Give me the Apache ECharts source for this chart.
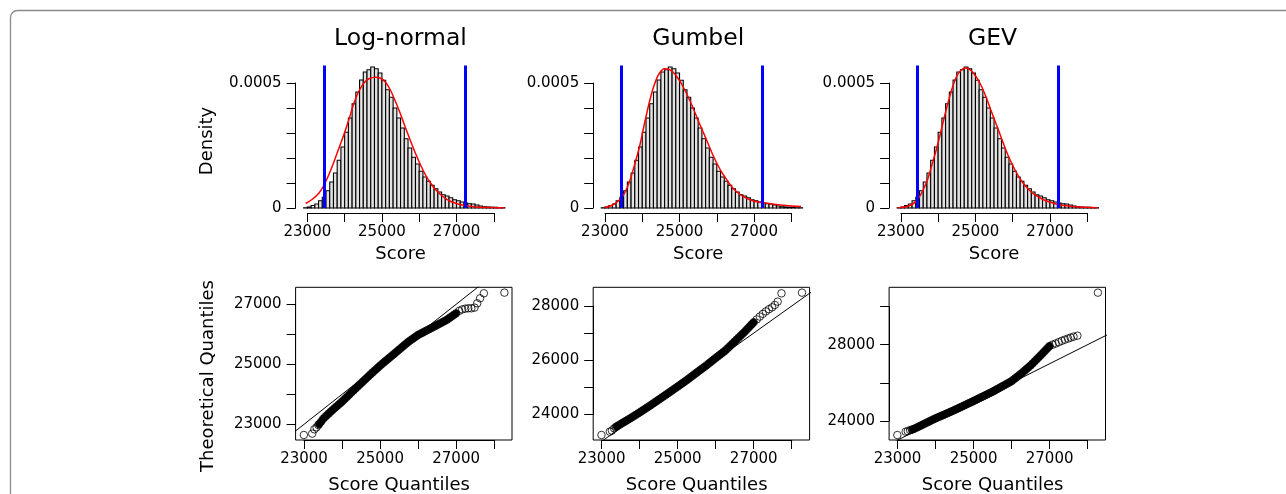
<!DOCTYPE html>
<html>
<head>
<meta charset="utf-8">
<title>Score distribution fits</title>
<script src="https://cdn.jsdelivr.net/npm/echarts@6/dist/echarts.min.js"></script>
<style>
  html, body { margin: 0; padding: 0; background: #fff; }
  #main { width: 1286px; height: 494px; }
</style>
</head>
<body>
<div id="main"></div>
<script>
// ---------- values ----------
var panelTitles = ['Log-normal', 'Gumbel', 'GEV'];
var scoreTicks = [23000, 24000, 25000, 26000, 27000, 28000];
var scoreLabels = [23000, 25000, 27000];
var densityTicks = [0, 0.0001, 0.0002, 0.0003, 0.0004, 0.0005];
var densityLabels = [0, 0.0005];

// histogram of the scores (density, bins of 100)
var binEdges = [22900, 23000, 23100, 23200, 23300, 23400, 23500, 23600, 23700, 23800,
  23900, 24000, 24100, 24200, 24300, 24400, 24500, 24600, 24700, 24800,
  24900, 25000, 25100, 25200, 25300, 25400, 25500, 25600, 25700, 25800,
  25900, 26000, 26100, 26200, 26300, 26400, 26500, 26600, 26700, 26800,
  26900, 27000, 27100, 27200, 27300, 27400, 27500, 27600, 27700, 27800,
  27900, 28000, 28100, 28200, 28300];
var histDensity = [1e-6, 4e-6, 10e-6, 16e-6, 29e-6, 43e-6, 69e-6, 104e-6, 140e-6, 191e-6,
  244e-6, 303e-6, 360e-6, 417e-6, 464e-6, 512e-6, 544e-6, 553e-6, 564e-6, 557e-6,
  540e-6, 511e-6, 473e-6, 443e-6, 400e-6, 360e-6, 320e-6, 277e-6, 240e-6, 203e-6,
  176e-6, 147e-6, 124e-6, 107e-6, 91e-6, 77e-6, 64e-6, 53e-6, 48e-6, 41e-6,
  33e-6, 29e-6, 24e-6, 20e-6, 17e-6, 16e-6, 12e-6, 8e-6, 5e-6, 4e-6,
  3e-6, 3e-6, 1e-6, 1e-6];

// fitted densities (red curves)
var lognormX = [22955, 23134, 23313, 23446, 23580, 23714, 23848, 23982, 24116, 24250,
  24384, 24518, 24652, 24830, 24964, 25098, 25232, 25366, 25500, 25634,
  25768, 25902, 26036, 26170, 26304, 26438, 26616, 26795, 26973, 27152,
  27420, 27688, 28000, 28268];
var lognormY = [18e-6, 35e-6, 60e-6, 92e-6, 135e-6, 185e-6, 240e-6, 295e-6, 355e-6, 420e-6,
  468e-6, 500e-6, 517e-6, 523e-6, 519e-6, 503e-6, 470e-6, 425e-6, 375e-6, 320e-6,
  268e-6, 218e-6, 172e-6, 132e-6, 100e-6, 74e-6, 48e-6, 30e-6, 19e-6, 12e-6,
  6e-6, 3e-6, 1.5e-6, 0.7e-6];
var gumbelX = [22991, 23214, 23393, 23527, 23661, 23795, 23929, 24063, 24196, 24330,
  24464, 24598, 24688, 24821, 24955, 25089, 25223, 25357, 25491, 25625,
  25759, 25893, 26027, 26161, 26295, 26429, 26607, 26786, 26964, 27143,
  27321, 27589, 27857, 28259];
var gumbelY = [1e-6, 13e-6, 33e-6, 60e-6, 107e-6, 173e-6, 247e-6, 340e-6, 427e-6, 496e-6,
  540e-6, 557e-6, 556e-6, 544e-6, 520e-6, 487e-6, 447e-6, 403e-6, 353e-6, 307e-6,
  260e-6, 213e-6, 171e-6, 136e-6, 107e-6, 80e-6, 56e-6, 40e-6, 29e-6, 23e-6,
  20e-6, 14e-6, 10e-6, 6e-6];
var gevX = [22911, 23134, 23313, 23446, 23580, 23714, 23848, 23982, 24116, 24250,
  24384, 24518, 24652, 24741, 24875, 25009, 25143, 25277, 25411, 25545,
  25679, 25813, 25946, 26080, 26214, 26348, 26527, 26705, 26884, 27063,
  27241, 27509, 27777, 28268];
var gevY = [0.5e-6, 5e-6, 16e-6, 33e-6, 67e-6, 113e-6, 180e-6, 251e-6, 333e-6, 413e-6,
  483e-6, 533e-6, 556e-6, 560e-6, 551e-6, 527e-6, 493e-6, 447e-6, 393e-6, 340e-6,
  287e-6, 233e-6, 187e-6, 147e-6, 113e-6, 87e-6, 60e-6, 43e-6, 29e-6, 21e-6,
  13e-6, 8e-6, 4e-6, 1.3e-6];

// blue cut-off lines
var cutoffs = [23440, 27230];
var cutoffTop = 0.00057;

// QQ plots: sample quantiles (same for all three), theoretical quantiles per fit
var sampleQ = [22995, 23215, 23270, 23330, 23375,
  23400, 23450, 23500, 23550, 23600, 23650, 23700, 23750, 23800, 23850,
  23900, 23950, 24000, 24050, 24100, 24150, 24200, 24250, 24300, 24350,
  24400, 24450, 24500, 24550, 24600, 24650, 24700, 24750, 24800, 24850,
  24900, 24950, 25000, 25050, 25100, 25150, 25200, 25250, 25300, 25350,
  25400, 25450, 25500, 25550, 25600, 25650, 25700, 25750, 25800, 25850,
  25900, 25950, 26000, 26050, 26100, 26150, 26200, 26250, 26300, 26350,
  26400, 26450, 26500, 26550, 26600, 26650, 26700, 26750, 26800, 26850,
  26900, 26950, 27000,
  27080, 27160, 27240, 27320, 27400,
  27485, 27555, 27630, 27730, 28270];
var theoLognorm = [22644, 22689, 22833, 22900, 22978,
  23010, 23090, 23178, 23240, 23300, 23360, 23420, 23478, 23535, 23590,
  23645, 23700, 23756, 23820, 23880, 23942, 24005, 24067, 24127, 24187,
  24247, 24307, 24367, 24427, 24487, 24547, 24607, 24667, 24725, 24783,
  24840, 24898, 24956, 25010, 25063, 25116, 25169, 25222, 25275, 25328,
  25382, 25436, 25489, 25542, 25596, 25650, 25703, 25756, 25800, 25845,
  25890, 25934, 25978, 26011, 26044, 26077, 26110, 26144, 26177, 26210,
  26244, 26277, 26311, 26344, 26377, 26411, 26444, 26478, 26522, 26567,
  26611, 26656, 26700,
  26780, 26830, 26855, 26867, 26867,
  26890, 27033, 27200, 27367, 27389];
var theoGumbel = [23237, 23360, 23400, 23483, 23530,
  23555, 23597, 23640, 23682, 23724, 23766, 23808, 23850, 23894, 23938,
  23982, 24026, 24070, 24116, 24162, 24208, 24254, 24300, 24348, 24396,
  24444, 24492, 24540, 24588, 24636, 24684, 24732, 24780, 24829, 24878,
  24927, 24976, 25025, 25075, 25125, 25175, 25225, 25275, 25328, 25381,
  25434, 25487, 25540, 25592, 25644, 25696, 25748, 25800, 25856, 25912,
  25968, 26024, 26080, 26134, 26188, 26242, 26296, 26350, 26418, 26486,
  26554, 26622, 26690, 26758, 26826, 26894, 26962, 27030, 27104, 27178,
  27252, 27326, 27400,
  27505, 27610, 27710, 27800, 27880,
  27951, 28037, 28160, 28468, 28492];
var theoGev = [23266, 23441, 23470, 23520, 23550,
  23560, 23605, 23651, 23700, 23749, 23798, 23847, 23896, 23945, 23994,
  24043, 24092, 24140, 24183, 24226, 24269, 24312, 24355, 24399, 24443,
  24487, 24531, 24576, 24623, 24670, 24717, 24764, 24812, 24859, 24906,
  24953, 25000, 25048, 25097, 25146, 25195, 25244, 25292, 25341, 25390,
  25439, 25488, 25537, 25592, 25647, 25702, 25757, 25812, 25867, 25922,
  25977, 26032, 26090, 26168, 26246, 26324, 26402, 26480, 26566, 26652,
  26738, 26824, 26910, 27010, 27110, 27210, 27310, 27410, 27514, 27618,
  27722, 27826, 27930,
  28000, 28060, 28130, 28200, 28260,
  28320, 28370, 28420, 28470, 30725];
// stretch of the sample where the points overlap into a solid band
var denseRange = [23400, 27000];

var qqYTicks = [
  [23000, 24000, 25000, 26000, 27000],
  [24000, 25000, 26000, 27000, 28000],
  [24000, 26000, 28000, 30000]
];
var qqYLabels = [[23000, 25000, 27000], [24000, 26000, 28000], [24000, 28000]];
var refLine = [22000, 32000];   // y = x

var curves = [[lognormX, lognormY], [gumbelX, gumbelY], [gevX, gevY]];
var theoQ = [theoLognorm, theoGumbel, theoGev];

// ---------- layout ----------
var FONT = 'DejaVu Sans';
var panelLeft = [295.6, 593.2, 889.1];
var histBox = { top: 60, height: 153, xMin: 22684, xMax: 28516, yMin: -0.00002, yMax: 0.000592 };
var histWidth = 217.4;
var qqBox = { top: 287.3, height: 152.7, xMin: 22778, xMax: 28470 };
var qqWidth = 216.4;
var qqYRange = [[22477, 27567], [23052, 28690], [23005, 31005]];

var grids = [], xAxes = [], yAxes = [], series = [];

function addGrid(rect, xAxis, yAxis) {
  var gi = grids.length;
  grids.push(Object.assign({ containLabel: false, outerBoundsMode: 'none' }, rect));
  xAxis.gridIndex = gi;
  yAxis.gridIndex = gi;
  xAxes.push(xAxis);
  yAxes.push(yAxis);
  return gi;
}

function hiddenAxis(min, max) {
  return { type: 'value', show: false, min: min, max: max };
}

function labelFormatter(labels) {
  return function (v) {
    for (var i = 0; i < labels.length; i++) {
      if (Math.abs(v - labels[i]) < 1e-9) return String(labels[i]);
    }
    return '';
  };
}

function tickAxis(ticks, labels, margin, name, nameGap) {
  return {
    type: 'value',
    min: ticks[0],
    max: ticks[ticks.length - 1],
    interval: ticks[1] - ticks[0],
    axisLine: { show: true, onZero: false, lineStyle: { color: '#000', width: 1 } },
    axisTick: { show: true, length: 9, lineStyle: { color: '#000', width: 1 } },
    splitLine: { show: false },
    axisLabel: {
      margin: margin,
      formatter: labelFormatter(labels),
      color: '#000', fontFamily: FONT, fontSize: 15
    },
    name: name || '',
    nameLocation: 'middle',
    nameGap: nameGap || 0,
    nameMoveOverlap: false,
    nameTextStyle: { color: '#000', fontFamily: FONT, fontSize: 18 }
  };
}

for (var p = 0; p < 3; p++) {
  var left = panelLeft[p];

  // ---- histogram panel ----
  var hx = histWidth / (histBox.xMax - histBox.xMin);
  var hy = histBox.height / (histBox.yMax - histBox.yMin);
  var hg = addGrid(
    { left: left, top: histBox.top, width: histWidth, height: histBox.height },
    hiddenAxis(histBox.xMin, histBox.xMax),
    hiddenAxis(histBox.yMin, histBox.yMax)
  );
  addGrid(
    { left: left + (scoreTicks[0] - histBox.xMin) * hx, top: histBox.top,
      width: (scoreTicks[scoreTicks.length - 1] - scoreTicks[0]) * hx, height: histBox.height },
    tickAxis(scoreTicks, scoreLabels, 12, 'Score', 32),
    hiddenAxis(0, 1)
  );
  addGrid(
    { left: left, top: histBox.top + (histBox.yMax - densityTicks[densityTicks.length - 1]) * hy,
      width: 100, height: (densityTicks[densityTicks.length - 1] - densityTicks[0]) * hy },
    hiddenAxis(0, 1),
    tickAxis(densityTicks, densityLabels, 14)
  );

  var bars = histDensity.map(function (d, i) { return [binEdges[i], binEdges[i + 1], d]; });
  series.push({
    type: 'custom',
    xAxisIndex: hg, yAxisIndex: hg,
    data: bars,
    encode: { x: [0, 1], y: 2 },
    silent: true,
    renderItem: function (params, api) {
      var p0 = api.coord([api.value(0), 0]);
      var p1 = api.coord([api.value(1), api.value(2)]);
      return {
        type: 'rect',
        shape: { x: p0[0], y: p1[1], width: p1[0] - p0[0], height: p0[1] - p1[1] },
        style: { fill: '#e2e2e2', stroke: '#000', lineWidth: 1.1 }
      };
    }
  });

  var cx = curves[p][0], cy = curves[p][1];
  series.push({
    type: 'line',
    xAxisIndex: hg, yAxisIndex: hg,
    data: cx.map(function (x, i) { return [x, cy[i]]; }),
    showSymbol: false,
    smooth: 0.3,
    silent: true,
    z: 3,
    lineStyle: { color: '#ff0000', width: 1.5 },
    markLine: {
      silent: true,
      symbol: ['none', 'none'],
      label: { show: false },
      lineStyle: { color: '#0000ff', width: 3, type: 'solid' },
      data: cutoffs.map(function (c) {
        return [{ coord: [c, 0] }, { coord: [c, cutoffTop] }];
      })
    }
  });

  // ---- QQ panel ----
  var yr = qqYRange[p];
  var qx = qqWidth / (qqBox.xMax - qqBox.xMin);
  var qy = qqBox.height / (yr[1] - yr[0]);
  var qg = addGrid(
    { left: left, top: qqBox.top, width: qqWidth, height: qqBox.height,
      show: true, borderColor: '#000', borderWidth: 1, backgroundColor: 'transparent' },
    hiddenAxis(qqBox.xMin, qqBox.xMax),
    hiddenAxis(yr[0], yr[1])
  );
  addGrid(
    { left: left + (scoreTicks[0] - qqBox.xMin) * qx, top: qqBox.top,
      width: (scoreTicks[scoreTicks.length - 1] - scoreTicks[0]) * qx, height: qqBox.height },
    tickAxis(scoreTicks, scoreLabels, 12, 'Score Quantiles', 36),
    hiddenAxis(0, 1)
  );
  var yt = qqYTicks[p];
  addGrid(
    { left: left, top: qqBox.top + (yr[1] - yt[yt.length - 1]) * qy,
      width: 100, height: (yt[yt.length - 1] - yt[0]) * qy },
    hiddenAxis(0, 1),
    tickAxis(yt, qqYLabels[p], 14)
  );

  var th = theoQ[p];
  var pts = sampleQ.map(function (s, i) { return [s, th[i]]; });
  // thousands of overlapping circles merge into a solid band
  series.push({
    type: 'line',
    xAxisIndex: qg, yAxisIndex: qg,
    data: pts.filter(function (d) { return d[0] >= denseRange[0] && d[0] <= denseRange[1]; }),
    showSymbol: false,
    silent: true,
    lineStyle: { color: '#000', width: 7, cap: 'round', join: 'round' }
  });
  series.push({
    type: 'scatter',
    xAxisIndex: qg, yAxisIndex: qg,
    data: pts,
    symbol: 'circle',
    symbolSize: 7.5,
    silent: true,
    itemStyle: { color: 'rgba(0,0,0,0)', borderColor: '#000', borderWidth: 1 }
  });
  series.push({
    type: 'line',
    xAxisIndex: qg, yAxisIndex: qg,
    data: [[refLine[0], refLine[0]], [refLine[1], refLine[1]]],
    showSymbol: false,
    silent: true,
    clip: true,
    lineStyle: { color: '#000', width: 1 }
  });
}

function label(text, x, y, size, rotation) {
  return {
    type: 'text', x: x, y: y, rotation: rotation || 0, silent: true,
    style: {
      text: text, fill: '#000', font: size + 'px "' + FONT + '"',
      textAlign: 'center', textVerticalAlign: 'middle', align: 'center', verticalAlign: 'middle'
    }
  };
}

var graphics = [
  {
    type: 'rect', silent: true, z: -10,
    shape: { x: 10.5, y: 10.5, width: 1320, height: 520, r: 7 },
    style: { fill: 'none', stroke: '#8a8a8a', lineWidth: 1.3 }
  },
  label('Density', 207, 141, 18, Math.PI / 2),
  label('Theoretical Quantiles', 208, 376, 18, Math.PI / 2)
];
var titleX = [400.5, 698.3, 992.5];
panelTitles.forEach(function (t, i) { graphics.push(label(t, titleX[i], 38.5, 23.5)); });

var chart = echarts.init(document.getElementById('main'));
chart.setOption({
  animation: false,
  backgroundColor: '#fff',
  textStyle: { fontFamily: FONT },
  grid: grids,
  xAxis: xAxes,
  yAxis: yAxes,
  series: series,
  graphic: graphics
});
</script>
</body>
</html>
